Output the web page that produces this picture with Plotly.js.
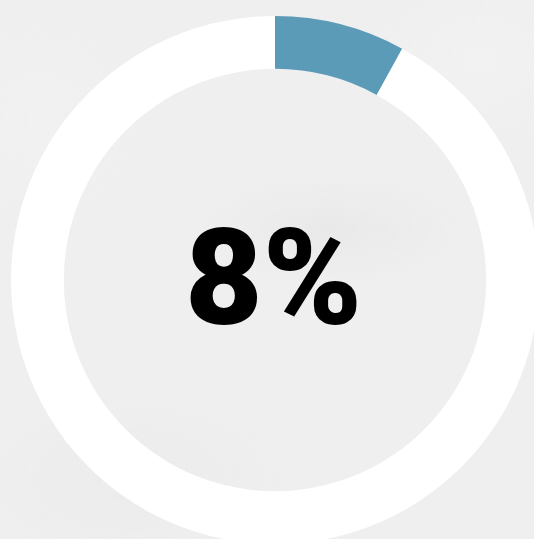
<!DOCTYPE html>
<html>
<head>
<meta charset="utf-8">
<script src="https://cdn.plot.ly/plotly-3.0.1.min.js"></script>
<style>
  html, body { margin:0; padding:0; width:534px; height:539px; overflow:hidden; }
  body {
    background-color:#efefef;
    background-image:
      radial-gradient(ellipse 170px 70px at 330px 230px, rgba(228,228,228,0.55), rgba(239,239,239,0) 75%),
      radial-gradient(ellipse 200px 110px at 130px 480px, rgba(232,232,232,0.5), rgba(239,239,239,0) 75%),
      radial-gradient(ellipse 160px 120px at 480px 60px, rgba(243,243,243,0.7), rgba(239,239,239,0) 75%),
      radial-gradient(ellipse 150px 150px at 40px 120px, rgba(243,243,243,0.6), rgba(239,239,239,0) 75%);
  }
  #chart { position:absolute; left:11px; top:16px; width:528px; height:528px; }
</style>
</head>
<body>
<div id="chart"></div>
<script>
const labels = ['Complete', 'Remaining'];
const values = [8, 92];
const sliceColors = ['#5c9bb7', '#ffffff'];
const centerLabel = '8%';

Plotly.newPlot('chart', [{
  type: 'pie',
  labels: labels,
  values: values,
  hole: 0.8,
  sort: false,
  direction: 'clockwise',
  rotation: 0,
  marker: { colors: sliceColors, line: { width: 0 } },
  textinfo: 'none',
  hoverinfo: 'none',
  showlegend: false
}], {
  width: 528,
  height: 528,
  margin: { l: 0, r: 0, t: 0, b: 0, pad: 0 },
  paper_bgcolor: 'rgba(0,0,0,0)',
  plot_bgcolor: 'rgba(0,0,0,0)',
  showlegend: false,
  annotations: [{
    text: centerLabel,
    x: 0.497, y: 0.503, xref: 'paper', yref: 'paper',
    xanchor: 'center', yanchor: 'middle',
    showarrow: false,
    font: { family: 'Roboto', size: 134, weight: 900, color: '#000000' }
  }]
}, { displayModeBar: false, staticPlot: true });
</script>
</body>
</html>
